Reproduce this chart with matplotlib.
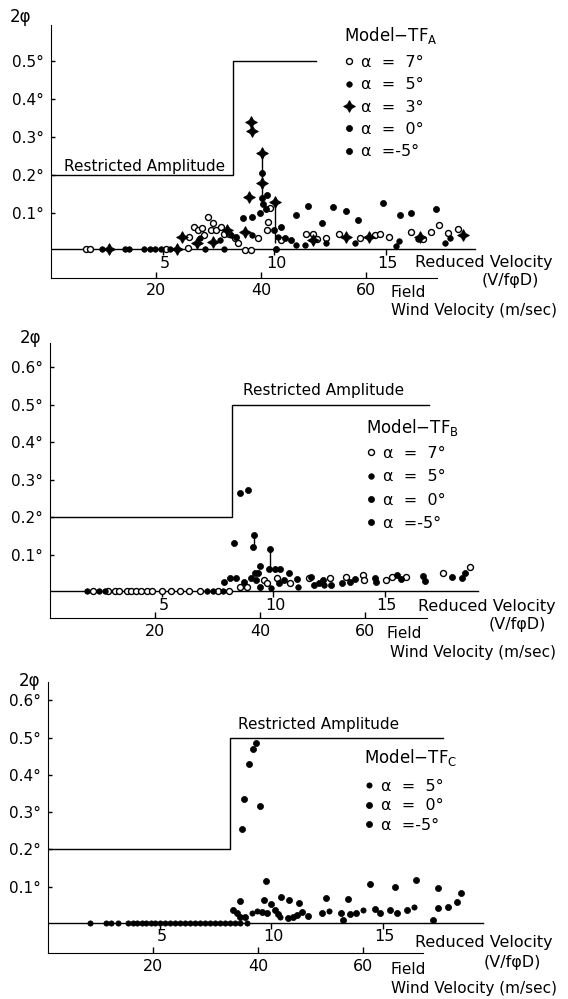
import matplotlib
matplotlib.use("Agg")
import matplotlib.pyplot as plt

W, H = 568, 999
plt.rcParams['font.family'] = ['DejaVu Sans']
plt.rcParams['font.size'] = 10.5

# shared axis info
K = 4.25                       # field wind (m/s) per unit of reduced velocity
field_ticks = [20, 40, 60]
reduced_ticks = [5, 10, 15]
restricted_low, restricted_high = 0.2, 0.5
step_at = 8.16
base = 0.004                   # level of the reduced velocity line

legend_labels_A = ["α  =  7°", "α  =  5°", "α  =  3°", "α  =  0°", "α  =-5°"]
legend_labels_B = ["α  =  7°", "α  =  5°", "α  =  0°", "α  =-5°"]
legend_labels_C = ["α  =  5°", "α  =  0°", "α  =-5°"]

# ---- Model TF-A ----
a7_x = [1.56, 1.77, 5.16, 6.13, 6.21, 6.42, 6.58, 6.77, 6.85, 7.02, 7.18, 7.26, 7.42, 7.61, 7.74,
        7.98, 8.23, 8.39, 8.71, 8.95, 9.27, 9.68, 9.73, 9.81, 10.32, 11.45, 11.77, 11.94, 12.34, 12.90,
        13.87, 14.52, 14.76, 15.16, 16.13, 16.69, 17.02, 17.42, 17.82, 18.23]
a7_y = [0.004, 0.004, 0.004, 0.007, 0.038, 0.064, 0.055, 0.060, 0.042, 0.090, 0.055, 0.075, 0.055, 0.064, 0.046,
        0.046, 0.033, 0.020, 0.003, 0.003, 0.033, 0.055, 0.077, 0.112, 0.029, 0.046, 0.046, 0.031, 0.033, 0.046,
        0.033, 0.042, 0.046, 0.038, 0.051, 0.031, 0.051, 0.068, 0.048, 0.057]
a5_x = [2.29, 3.31, 3.52, 4.19, 4.44, 4.68, 4.92, 5.32, 6.90, 7.74, 6.69, 7.58, 8.06, 9.03, 10.16,
        10.97, 11.37, 12.34, 13.63, 15.48, 15.61, 16.45, 17.66, 17.90]
a5_y = [0.004, 0.004, 0.004, 0.004, 0.004, 0.004, 0.004, 0.004, 0.004, 0.004, 0.033, 0.029, 0.042, 0.042, 0.036,
        0.016, 0.016, 0.022, 0.020, 0.013, 0.027, 0.031, 0.020, 0.033]
a3_x = [2.58, 5.65, 5.89, 6.53, 7.26, 7.90, 8.71, 8.87, 8.98, 9.03, 9.44, 9.48, 10.03, 11.77, 13.23, 14.27, 16.53, 18.47]
a3_y = [0.004, 0.004, 0.038, 0.020, 0.025, 0.055, 0.051, 0.143, 0.340, 0.317, 0.259, 0.178, 0.130, 0.029, 0.036, 0.038, 0.038, 0.042]
a0_x = [8.31, 8.63, 9.03, 9.44, 9.44, 9.68, 9.52, 9.65, 9.35, 10.08, 10.32, 10.77, 10.48, 10.00]
a0_y = [0.036, 0.086, 0.090, 0.204, 0.139, 0.147, 0.125, 0.110, 0.099, 0.004, 0.064, 0.029, 0.033, 0.055]
am5_x = [10.97, 11.53, 12.15, 12.66, 13.23, 13.76, 14.89, 15.65, 16.13, 17.26]
am5_y = [0.095, 0.118, 0.075, 0.117, 0.104, 0.082, 0.127, 0.095, 0.099, 0.110]
a_conn_x = [9.44, 10.03]
a_conn_lo = [0.13, 0.02]
a_conn_hi = [0.259, 0.130]

# ---- Model TF-B ----
b7_x = [1.93, 2.62, 2.92, 3.11, 3.44, 3.64, 3.85, 4.10, 4.34, 4.59, 5.00, 5.41, 5.82, 6.23, 6.72, 7.54, 8.03,
        8.52, 8.85, 9.59, 9.75, 10.16, 10.77, 11.60, 12.54, 13.28, 14.02, 14.07, 15.05, 15.33, 15.98, 17.62, 18.85]
b7_y = [0.005] * 17 + [0.016, 0.016, 0.034, 0.025, 0.038, 0.025, 0.038, 0.038, 0.042, 0.047, 0.034, 0.034,
                       0.041, 0.041, 0.053, 0.069]
b5_x = [1.64, 2.21, 2.46, 7.02, 7.30, 7.74, 11.11, 12.30, 9.92]
b5_y = [0.005, 0.005, 0.005, 0.005, 0.005, 0.005, 0.016, 0.020, 0.012]
b0_x = [8.52, 8.90, 8.23, 9.15, 9.10, 9.87, 9.43, 9.84, 10.10, 10.30]
b0_y = [0.264, 0.273, 0.131, 0.153, 0.122, 0.115, 0.071, 0.062, 0.062, 0.062]
bm5_x = [7.79, 8.07, 8.36, 8.72, 9.02, 9.18, 9.34, 9.26, 9.43, 10.25, 10.49, 10.70, 11.07, 11.72, 11.84, 12.05,
         12.26, 12.59, 13.11, 13.44, 13.69, 14.59, 14.64, 15.57, 15.74, 16.72, 16.80, 18.03, 18.49, 18.61]
bm5_y = [0.029, 0.038, 0.038, 0.029, 0.038, 0.051, 0.051, 0.034, 0.016, 0.025, 0.034, 0.051, 0.035, 0.042, 0.020, 0.025,
         0.034, 0.020, 0.025, 0.029, 0.035, 0.038, 0.027, 0.047, 0.035, 0.044, 0.032, 0.041, 0.038, 0.053]
b_conn_x = [9.13, 9.87]
b_conn_lo = [0.122, 0.062]
b_conn_hi = [0.153, 0.115]

# ---- Model TF-C ----
c5_x = [1.88, 2.60, 2.81, 3.15, 3.60, 3.80, 3.98, 4.20, 4.39, 4.60, 4.80, 5.02, 5.25, 5.47, 5.70, 5.92, 6.14,
        6.37, 6.59, 6.82, 7.04, 7.26, 7.49, 7.71, 7.94, 8.16, 8.39, 8.61, 8.91,
        9.13, 9.36, 10.40, 12.62, 14.14, 16.43]
c5_y = [0.002] * 29 + [0.030, 0.036, 0.018, 0.036, 0.038, 0.046]
c0_x = [9.33, 9.21, 9.01, 8.77, 9.52, 8.69, 9.79, 14.44, 15.56, 16.49, 17.47, 18.50]
c0_y = [0.484, 0.468, 0.429, 0.334, 0.316, 0.256, 0.115, 0.107, 0.100, 0.117, 0.096, 0.083]
cm5_x = [8.63, 9.69, 9.99, 10.43, 10.82, 11.24, 12.45, 13.44, 8.30, 8.46, 8.61, 8.84, 9.58, 9.84, 10.18, 10.33,
         10.78, 11.00, 11.18, 11.38, 11.68, 12.27, 13.14, 13.24, 13.54, 13.81, 14.66, 14.89, 15.34, 15.64, 16.08,
         17.28, 17.50, 17.95, 18.35]
cm5_y = [0.062, 0.064, 0.054, 0.073, 0.064, 0.057, 0.069, 0.066, 0.038, 0.029, 0.020, 0.020, 0.033, 0.030, 0.038, 0.027,
         0.015, 0.018, 0.024, 0.033, 0.021, 0.029, 0.030, 0.011, 0.027, 0.029, 0.039, 0.029, 0.038, 0.029, 0.038,
         0.011, 0.042, 0.046, 0.059]

fig = plt.figure(figsize=(W / 100, H / 100), dpi=100)


def ftext(x, y, s, **kw):
    # place a label at a pixel position of the page
    kw.setdefault('va', 'center')
    kw.setdefault('fontsize', 11)
    fig.text(x / W, 1 - y / H, s, **kw)


def make_panel(x0, yzero, sy, ylo, yhi, yticks, xmax=20.5, sx=22.3):
    left = x0 / W
    width = xmax * sx / W
    bottom = 1 - (yzero - ylo * sy) / H
    height = (yhi - ylo) * sy / H
    ax = fig.add_axes([left, bottom, width, height])
    ax.set_xlim(0, xmax)
    ax.set_ylim(ylo, yhi)
    ax.patch.set_alpha(0)
    for s in ['top', 'right']:
        ax.spines[s].set_visible(False)
    ax.set_yticks(yticks, [f"{v:.1f}°" for v in yticks])
    ax.set_xticks([t / K for t in field_ticks], [str(t) for t in field_ticks])
    ax.tick_params(axis='y', direction='in', length=3, width=1, pad=5, labelsize=11)
    ax.tick_params(axis='x', direction='in', length=4, width=1, pad=4, labelsize=11.5)
    return ax


def decorate(ax, restricted_end, field_end, inner_end):
    ax.spines['bottom'].set_bounds(0, field_end)
    ax.plot([0, step_at, step_at, restricted_end],
            [restricted_low, restricted_low, restricted_high, restricted_high], color='k', lw=1)
    ax.plot([0, inner_end], [base, base], color='k', lw=1)
    ax.plot(reduced_ticks, [base] * len(reduced_ticks), ls='none', marker=3, ms=4, color='k')
    for t in reduced_ticks:
        ax.annotate(str(t), (t, base), xytext=(1.5, -5), textcoords='offset points',
                    ha='center', va='top', fontsize=11.5)


def open_pts(ax, x, y):
    return ax.plot(x, y, ls='none', marker='o', ms=4.3, mfc='white', mec='k', mew=1.0, zorder=3)[0]


def solid_pts(ax, x, y, ms=4.4):
    return ax.plot(x, y, ls='none', marker='o', ms=ms, mfc='k', mec='k', mew=0.5, zorder=3)[0]


def star_pts(ax, x, y):
    return ax.plot(x, y, ls='none', marker=(4, 1, 0), ms=8.5, mfc='k', mec='k', mew=0.6, zorder=3)[0]


def add_legend(ax, handles, labels, title, lx, title_y, rows_top, spacing):
    ftext(lx, title_y, title, fontsize=12)
    ax.legend(handles, labels, loc='upper left',
              bbox_to_anchor=(lx / W, 1 - rows_top / H), bbox_transform=fig.transFigure,
              frameon=False, borderpad=0, borderaxespad=0, handlelength=0.6,
              handletextpad=0.45, labelspacing=spacing, fontsize=11.5)


# ---------------- panel A ----------------
axA = make_panel(51, 251, 380, -0.07, 0.595, [0.1, 0.2, 0.3, 0.4, 0.5])
decorate(axA, 11.9, 17.3, 19.0)
axA.vlines(a_conn_x, a_conn_lo, a_conn_hi, color='k', lw=1)
hA = [open_pts(axA, a7_x, a7_y), solid_pts(axA, a5_x, a5_y, 4.0), star_pts(axA, a3_x, a3_y),
      solid_pts(axA, a0_x, a0_y), solid_pts(axA, am5_x, am5_y)]
add_legend(axA, hA, legend_labels_A, "Model$-$TF$_{\\rm A}$", 344, 35, 55, 0.46)
ftext(10, 17, "2φ", fontsize=12)
ftext(64, 167, "Restricted Amplitude")
ftext(415, 263, "Reduced Velocity", fontsize=11.5)
ftext(482, 280, "(V/fφD)", fontsize=11.5)
ftext(391, 292, "Field")
ftext(391, 310, "Wind Velocity (m/sec)")

# ---------------- panel B ----------------
axB = make_panel(50, 592.6, 376, -0.068, 0.665, [0.1, 0.2, 0.3, 0.4, 0.5, 0.6])
decorate(axB, 17.0, 16.9, 19.2)
axB.vlines(b_conn_x, b_conn_lo, b_conn_hi, color='k', lw=1)
hB = [open_pts(axB, b7_x, b7_y), solid_pts(axB, b5_x, b5_y, 4.0),
      solid_pts(axB, b0_x, b0_y), solid_pts(axB, bm5_x, bm5_y)]
add_legend(axB, hB, legend_labels_B, "Model$-$TF$_{\\rm B}$", 366, 427, 446, 0.52)
ftext(20, 338, "2φ", fontsize=12)
ftext(243, 390, "Restricted Amplitude")
ftext(418, 607, "Reduced Velocity", fontsize=11.5)
ftext(489, 625, "(V/fφD)", fontsize=11.5)
ftext(387, 633, "Field")
ftext(390, 653, "Wind Velocity (m/sec)")

# ---------------- panel C ----------------
axC = make_panel(48, 924, 373, -0.078, 0.65, [0.1, 0.2, 0.3, 0.4, 0.5, 0.6])
decorate(axC, 17.7, 16.8, 19.5)
hC = [solid_pts(axC, c5_x, c5_y, 3.8), solid_pts(axC, c0_x, c0_y), solid_pts(axC, cm5_x, cm5_y)]
add_legend(axC, hC, legend_labels_C, "Model$-$TF$_{\\rm C}$", 364, 758, 779, 0.28)
ftext(19, 681, "2φ", fontsize=12)
ftext(238, 725, "Restricted Amplitude")
ftext(415, 942, "Reduced Velocity", fontsize=11.5)
ftext(484, 962, "(V/fφD)", fontsize=11.5)
ftext(391, 970, "Field")
ftext(391, 988, "Wind Velocity (m/sec)")

fig.savefig("out.png", dpi=100, facecolor='white')
